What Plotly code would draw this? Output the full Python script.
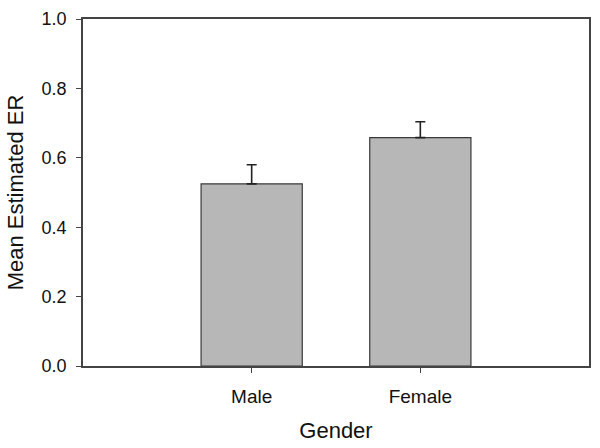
import plotly.graph_objects as go

categories = ["Male", "Female"]
means = [0.525, 0.658]
errors_up = [0.055, 0.046]

FONT = "Liberation Sans, Arial, sans-serif"

fig = go.Figure()
fig.add_trace(go.Bar(
    x=categories,
    y=means,
    width=0.6,
    marker=dict(color="#b7b7b7", line=dict(color="#3a3a3a", width=1.2)),
    error_y=dict(type="data", symmetric=False, array=errors_up,
                 arrayminus=[0, 0], color="#222222", thickness=1.6, width=5),
))

fig.update_layout(
    width=600, height=448,
    margin=dict(l=83, r=9, t=14, b=79),
    paper_bgcolor="white", plot_bgcolor="white",
    showlegend=False,
    font=dict(family=FONT, color="#111111"),
)
fig.update_xaxes(
    range=[-1, 2],
    showline=True, linecolor="#444444", linewidth=1.5, mirror=True,
    ticks="outside", ticklen=5, tickwidth=1.2, tickcolor="#444444",
    tickfont=dict(size=19), ticklabelstandoff=7,
    title=dict(text="Gender", font=dict(size=22), standoff=17),
    showgrid=False, zeroline=False,
)
fig.update_yaxes(
    range=[0, 1.0], tickvals=[0, 0.2, 0.4, 0.6, 0.8, 1.0],
    tickformat=".1f",
    showline=True, linecolor="#444444", linewidth=1.5, mirror=True,
    ticks="outside", ticklen=5, tickwidth=1.2, tickcolor="#444444",
    tickfont=dict(size=18), ticklabelstandoff=6,
    title=dict(text="Mean Estimated ER", font=dict(size=22), standoff=12),
    showgrid=False, zeroline=False,
)

fig.write_html(
    "out.html",
    config={"displayModeBar": False},
    post_script="document.body.style.margin='0';document.body.style.overflow='hidden';",
)
